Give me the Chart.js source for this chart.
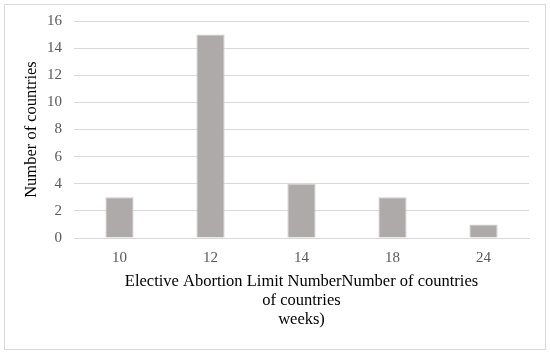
<!DOCTYPE html>
<html>
<head>
<meta charset="utf-8">
<script src="https://cdn.jsdelivr.net/npm/chart.js@4"></script>
<style>
  body { margin: 0; background: #fff; }
  #wrap { position: relative; width: 550px; height: 354px; }
  #frame { position: absolute; left: 4px; top: 4px; width: 540px; height: 344px; border: 1px solid #d9d9d9; pointer-events: none; }
</style>
</head>
<body>
<div id="wrap">
  <canvas id="myChart" width="550" height="354"></canvas>
  <div id="frame"></div>
</div>
<script>
  // Datos del gráfico
  const semanas = ['10', '12', '14', '18', '24'];
  const paises = [3, 15, 4, 3, 1];
  const ticksY = [0, 2, 4, 6, 8, 10, 12, 14, 16];

  const serif = "'Liberation Serif', 'DejaVu Serif', serif";

  let dataChart = {
    labels: semanas,
    datasets: [{
      label: 'Number of countries',
      data: paises,
      backgroundColor: '#aeaaaa',
      borderColor: '#cfcdcd',
      borderWidth: 1,
      barPercentage: 0.62,
      categoryPercentage: 0.5
    }]
  };

  let options = {
    responsive: false,
    animation: false,
    layout: { padding: { left: 22, right: 21, top: 15, bottom: 25 } },
    plugins: {
      legend: { display: false },
      tooltip: { enabled: false }
    },
    scales: {
      x: {
        grid: { display: false },
        border: { display: true, color: '#d9d9d9' },
        ticks: { color: '#595959', font: { family: serif, size: 15 }, padding: 3 },
        title: {
          display: true,
          text: ['Elective Abortion Limit NumberNumber of countries', 'of countries', 'weeks)'],
          color: '#000',
          font: { family: serif, size: 16.5, lineHeight: 1.15 },
          padding: { top: 2, bottom: 0 }
        }
      },
      y: {
        min: 0,
        max: 16,
        afterBuildTicks: axis => { axis.ticks = ticksY.map(v => ({ value: v })); },
        afterFit: axis => { axis.width = 52; },
        grid: { color: '#d9d9d9', drawTicks: false },
        border: { display: false },
        ticks: { color: '#595959', font: { family: serif, size: 15 }, padding: 12 },
        title: {
          display: true,
          text: 'Number of countries',
          color: '#000',
          font: { family: serif, size: 16.5 },
          padding: { top: 0, bottom: 5 }
        }
      }
    }
  };

  let ctx = document.getElementById('myChart').getContext('2d');
  let myChart = new Chart(ctx, { type: 'bar', data: dataChart, options: options });
</script>
</body>
</html>
